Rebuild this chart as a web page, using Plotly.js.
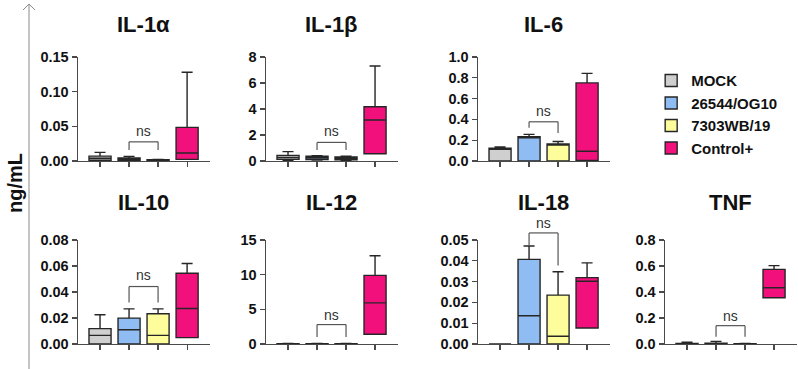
<!DOCTYPE html>
<html>
<head>
<meta charset="utf-8">
<script src="https://cdn.plot.ly/plotly-3.0.1.min.js"></script>
<style>
  html, body { margin: 0; padding: 0; background: #fff; }
  #chart { width: 798px; height: 369px; }
</style>
</head>
<body>
<div id="chart"></div>
<script>
// Groups (x categories) and their fill colours
const groups = ['MOCK', '26544/OG10', '7303WB/19', 'Control+'];
const groupColors = ['#cfcfcf', '#8fbdf3', '#fdfd9c', '#f2117c'];

// Cytokine panels, in reading order
const panels = ['IL-1α', 'IL-1β', 'IL-6', 'IL-10', 'IL-12', 'IL-18', 'TNF'];

// Box statistics per panel, one value per group (ng/mL)
const lowerFence = [
  [0.0, 0.0, 0.0, 0.0024],
  [0.05, 0.08, 0.06, 0.56],
  [0.0, 0.0, 0.0, 0.006],
  [0.0, 0.0, 0.0, 0.0049],
  [0.0, 0.0, 0.0, 1.40],
  [0.0, 0.0, 0.0, 0.0077],
  [0.0, 0.0, 0.0, 0.356]
];
const q1 = [
  [0.001, 0.001, 0.0005, 0.0024],
  [0.13, 0.12, 0.10, 0.56],
  [0.0, 0.0, 0.0, 0.006],
  [0.0, 0.0, 0.0, 0.0049],
  [0.0, 0.0, 0.0, 1.40],
  [0.0, 0.0, 0.0, 0.0077],
  [0.0, 0.0, 0.0, 0.356]
];
const medians = [
  [0.004, 0.003, 0.001, 0.0115],
  [0.28, 0.25, 0.20, 3.15],
  [0.118, 0.225, 0.155, 0.093],
  [0.0066, 0.011, 0.0066, 0.0273],
  [0.02, 0.02, 0.02, 5.93],
  [0.0, 0.0136, 0.0037, 0.0302],
  [0.002, 0.003, 0.001, 0.433]
];
const q3 = [
  [0.007, 0.0043, 0.0018, 0.0485],
  [0.43, 0.36, 0.31, 4.17],
  [0.122, 0.233, 0.163, 0.751],
  [0.0118, 0.0199, 0.0233, 0.0544],
  [0.05, 0.05, 0.05, 9.89],
  [0.0, 0.0407, 0.0235, 0.0319],
  [0.005, 0.006, 0.002, 0.574]
];
const upperFence = [
  [0.0124, 0.0066, 0.0022, 0.128],
  [0.72, 0.40, 0.36, 7.31],
  [0.134, 0.256, 0.188, 0.843],
  [0.0225, 0.027, 0.027, 0.0619],
  [0.08, 0.08, 0.08, 12.73],
  [0.0, 0.0471, 0.0347, 0.039],
  [0.013, 0.02, 0.004, 0.603]
];

// Y axis: top of range, tick step and tick format per panel
const yTop = [0.15, 8, 1.0, 0.08, 15, 0.05, 0.8];
const yStep = [0.05, 2, 0.2, 0.02, 5, 0.01, 0.2];
const yFormat = ['.2f', 'd', '.1f', '.2f', 'd', '.2f', '.1f'];

// "ns" comparison between 26544/OG10 and 7303WB/19: bracket top, leg ends, label height
const nsTop = [0.0276, 1.43, 0.377, 0.0442, 2.80, 0.0534, 0.141];
const nsLeftEnd = [0.0157, 0.84, 0.32, 0.032, 1.01, 0.0473, 0.056];
const nsRightEnd = [0.0157, 0.84, 0.27, 0.032, 1.01, 0.0377, 0.056];
const nsLabel = [0.043, 2.3, 0.48, 0.0527, 4.25, 0.0584, 0.218];

// Panel placement (paper fractions)
const colDomains = [[0.0977, 0.2632], [0.3333, 0.4987], [0.5990, 0.7644], [0.8333, 0.9987]];
const rowDomains = [[0.5637, 0.8455], [0.0678, 0.3496]];
const panelCell = [[0, 0], [0, 1], [0, 2], [1, 0], [1, 1], [1, 2], [1, 3]];

const FONT = 'Arial, "Liberation Sans", sans-serif';
const INK = '#262626';
const AXIS = '#4a4a4a';

const traces = [];
const layout = {
  width: 798,
  height: 369,
  margin: { l: 0, r: 0, t: 0, b: 0 },
  paper_bgcolor: '#ffffff',
  plot_bgcolor: 'rgba(0,0,0,0)',
  showlegend: true,
  boxmode: 'overlay',
  boxgap: 0.24,
  boxgroupgap: 0,
  font: { family: FONT, color: INK },
  legend: {
    x: 0.816, y: 0.826, xanchor: 'left', yanchor: 'top',
    font: { family: FONT, size: 15, weight: 700, color: '#111' },
    bgcolor: 'rgba(0,0,0,0)', borderwidth: 0,
    traceorder: 'normal', itemwidth: 30
  },
  shapes: [],
  annotations: []
};

panels.forEach((name, p) => {
  const n = p + 1;
  const xa = 'x' + (n === 1 ? '' : n);
  const ya = 'y' + (n === 1 ? '' : n);
  const xKey = 'xaxis' + (n === 1 ? '' : n);
  const yKey = 'yaxis' + (n === 1 ? '' : n);
  const [r, c] = panelCell[p];

  groups.forEach((g, k) => {
    traces.push({
      type: 'box',
      name: g,
      x: [g],
      q1: [q1[p][k]],
      median: [medians[p][k]],
      q3: [q3[p][k]],
      lowerfence: [lowerFence[p][k]],
      upperfence: [upperFence[p][k]],
      xaxis: xa,
      yaxis: ya,
      fillcolor: groupColors[k],
      line: { color: INK, width: 1.4 },
      whiskerwidth: 0.5,
      boxpoints: false,
      showlegend: p === 0,
      hoverinfo: 'skip'
    });
  });

  layout[xKey] = {
    domain: colDomains[c],
    anchor: ya,
    type: 'category',
    categoryorder: 'array',
    categoryarray: groups,
    range: [-0.76, 3.79],
    showline: true, linecolor: AXIS, linewidth: 1.4,
    ticks: 'outside', ticklen: 5, tickwidth: 1.2, tickcolor: AXIS,
    showticklabels: false, showgrid: false, zeroline: false, fixedrange: true
  };
  layout[yKey] = {
    domain: rowDomains[r],
    anchor: xa,
    range: [0, yTop[p]],
    tick0: 0, dtick: yStep[p], tickformat: yFormat[p],
    showline: true, linecolor: AXIS, linewidth: 1.4,
    ticks: 'outside', ticklen: 5, tickwidth: 1.2, tickcolor: AXIS,
    tickfont: { family: FONT, size: 14.5, weight: 700, color: '#111' },
    showgrid: false, zeroline: false, fixedrange: true
  };

  // panel title
  layout.annotations.push({
    xref: xa + ' domain', yref: ya + ' domain',
    x: 0.5, y: 1, yshift: r === 0 ? 33 : 37, xanchor: 'center', yanchor: 'middle',
    text: name, showarrow: false,
    font: { family: FONT, size: 22, weight: 700, color: '#111' }
  });

  // "ns" bracket, heights given as fractions of the axis span
  const fr = v => v / yTop[p];
  const yd = ya + ' domain';
  const br = { color: '#555', width: 1.2 };
  layout.shapes.push(
    { type: 'line', xref: xa, yref: yd, x0: groups[1], x1: groups[2], y0: fr(nsTop[p]), y1: fr(nsTop[p]), line: br },
    { type: 'line', xref: xa, yref: yd, x0: groups[1], x1: groups[1], y0: fr(nsTop[p]), y1: fr(nsLeftEnd[p]), line: br },
    { type: 'line', xref: xa, yref: yd, x0: groups[2], x1: groups[2], y0: fr(nsTop[p]), y1: fr(nsRightEnd[p]), line: br }
  );
  layout.annotations.push({
    xref: xa, yref: yd, x: 1.5, y: fr(nsLabel[p]),
    xanchor: 'center', yanchor: 'middle', text: 'ns', showarrow: false,
    font: { family: FONT, size: 14, color: '#333' }
  });
});

// shared y label and the vertical arrow beside it
layout.annotations.push({
  xref: 'paper', yref: 'paper', x: 15 / 798, y: 1 - 183 / 369,
  xanchor: 'center', yanchor: 'middle', textangle: -90,
  text: 'ng/mL', showarrow: false,
  font: { family: FONT, size: 20, weight: 700, color: '#111' }
});
layout.shapes.push(
  { type: 'line', xref: 'paper', yref: 'paper', x0: 29 / 798, x1: 29 / 798, y0: 0, y1: 1 - 4 / 369, line: { color: '#8a8a8a', width: 1 } },
  { type: 'line', xref: 'paper', yref: 'paper', x0: 23 / 798, x1: 29 / 798, y0: 1 - 10 / 369, y1: 1 - 4 / 369, line: { color: '#8a8a8a', width: 1 } },
  { type: 'line', xref: 'paper', yref: 'paper', x0: 35 / 798, x1: 29 / 798, y0: 1 - 10 / 369, y1: 1 - 4 / 369, line: { color: '#8a8a8a', width: 1 } }
);

Plotly.newPlot('chart', traces, layout, { displayModeBar: false, staticPlot: true });
</script>
</body>
</html>
